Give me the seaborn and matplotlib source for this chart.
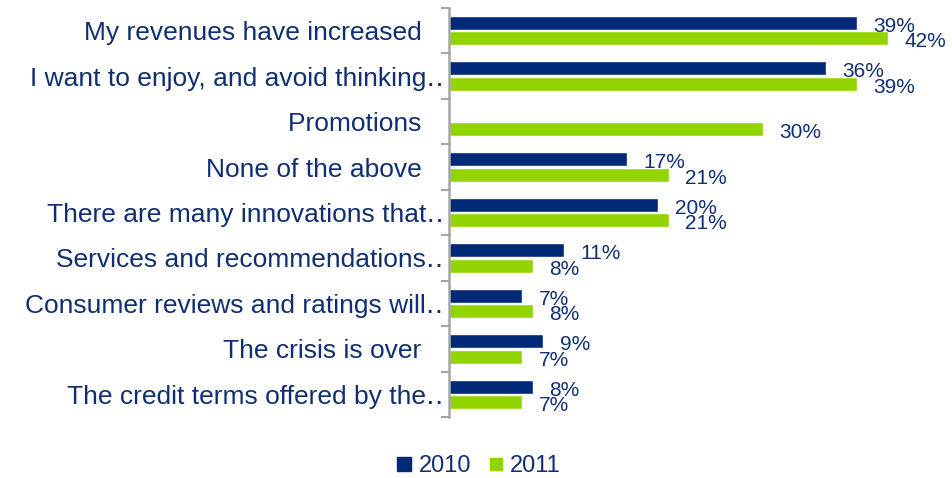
import numpy as np
import pandas as pd
import seaborn as sns
import matplotlib.pyplot as plt
from matplotlib.lines import Line2D
from matplotlib.ticker import FixedLocator

categories = [
    "My revenues have increased",
    "I want to enjoy, and avoid thinking\u2025",
    "Promotions",
    "None of the above",
    "There are many innovations that\u2025",
    "Services and recommendations\u2025",
    "Consumer reviews and ratings will\u2025",
    "The crisis is over",
    "The credit terms offered by the\u2025",
]
truncated = [False, True, False, False, True, True, True, False, True]
values_2010 = [39, 36, np.nan, 17, 20, 11, 7, 9, 8]
values_2011 = [42, 39, 30, 21, 21, 8, 8, 7, 7]
years = ["2010", "2011"]

NAVY = "#002A78"
GREEN = "#92D400"
TEXT = "#102F72"
SPINE = "#A6A6A6"

df = pd.DataFrame({
    "item": categories * 2,
    "pct": values_2010 + values_2011,
    "year": [years[0]] * len(categories) + [years[1]] * len(categories),
})

sns.set_theme(style="white")
plt.rcParams["font.family"] = ["Liberation Sans", "DejaVu Sans"]

W, H = 953, 478
fig = plt.figure(figsize=(W / 100, H / 100), dpi=100)
ax_left, ax_right = 449, 939
ax_top, ax_bottom = 8, 417
ax = fig.add_axes([ax_left / W, 1 - ax_bottom / H,
                   (ax_right - ax_left) / W, (ax_bottom - ax_top) / H])

sns.barplot(data=df, y="item", x="pct", hue="year", orient="h",
            palette=[NAVY, GREEN], saturation=1, width=0.68, gap=0.1,
            order=categories, hue_order=years, legend=False, ax=ax,
            errorbar=None)

ax.set_xlim(0, (ax_right - ax_left) / 10.46)
ax.set_ylim(len(categories) - 0.5, -0.5)
ax.set_xlabel("")
ax.set_ylabel("")

# value labels at the end of each bar
for container in ax.containers:
    for patch in container:
        w = patch.get_width()
        if not np.isfinite(w) or w == 0:
            continue
        y = patch.get_y() + patch.get_height() / 2
        ax.annotate(f"{w:.0f}%", (w, y), xytext=(12, -2.5),
                    textcoords="offset points", ha="left", va="center",
                    fontsize=15, color=TEXT, annotation_clip=False)

# category labels; full labels sit a little further from the axis
labels = [c if t else c + "   " for c, t in zip(categories, truncated)]
ax.set_yticks(range(len(categories)))
ax.set_yticklabels(labels, fontsize=19, color=TEXT)
ax.tick_params(axis="y", which="major", length=0, pad=4)
ax.yaxis.set_minor_locator(FixedLocator(np.arange(-0.5, len(categories), 1)))
ax.tick_params(axis="y", which="minor", length=6, width=1.5, color=SPINE,
               direction="out", left=True)
ax.set_xticks([])

for side in ["top", "right", "bottom"]:
    ax.spines[side].set_visible(False)
ax.spines["left"].set_color(SPINE)
ax.spines["left"].set_linewidth(1.8)

handles = [
    Line2D([], [], marker="s", linestyle="", markersize=10,
           markerfacecolor=NAVY, markeredgecolor=NAVY),
    Line2D([], [], marker="s", linestyle="", markersize=8,
           markerfacecolor=GREEN, markeredgecolor=GREEN),
]
leg = fig.legend(handles, years, loc="center", bbox_to_anchor=(0.502, 0.025),
                 ncol=2, frameon=False, fontsize=17, handlelength=0.7,
                 handletextpad=0.25, columnspacing=0.7)
for t in leg.get_texts():
    t.set_color(TEXT)

fig.savefig("out.png", dpi=100)
